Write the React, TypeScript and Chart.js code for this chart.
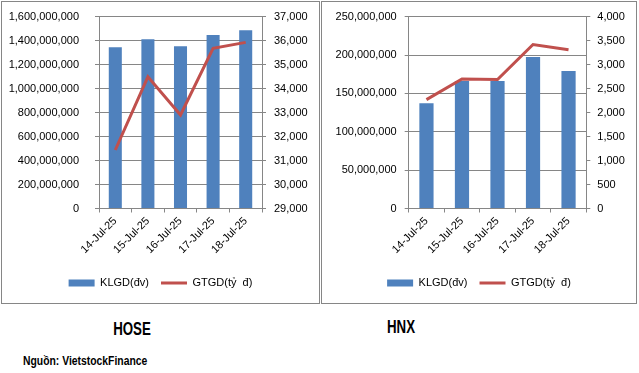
import React, { useEffect, useRef } from "react";
import { Chart, registerables } from "chart.js";

Chart.register(...registerables);

const dates = ["14-Jul-25", "15-Jul-25", "16-Jul-25", "17-Jul-25", "18-Jul-25"];
const seriesNames = ["KLGD(đv)", "GTGD(tỷ  đ)"];

const hoseVolume = [1346000000, 1412000000, 1354000000, 1448000000, 1487000000];
const hoseValue = [31440, 34490, 32900, 35680, 35930];
const hnxVolume = [137100000, 166200000, 166200000, 197500000, 179200000];
const hnxValue = [2270, 2700, 2690, 3420, 3310];

// [min, max, step]
const hoseVolumeAxis = [0, 1600000000, 200000000];
const hoseValueAxis = [29000, 37000, 1000];
const hnxVolumeAxis = [0, 250000000, 50000000];
const hnxValueAxis = [0, 4000, 500];

const BAR_COLOR = "#4F81BD";
const LINE_COLOR = "#C0504D";
const GRID_COLOR = "#868686";
const FONT = "'Liberation Sans', Arial, sans-serif";

type Geo = {
  leftW: number;
  rightW: number;
  leftPad: number;
  rightPad: number;
  xH: number;
  top: number;
  bottom: number;
};

function fmt(v: number | string) {
  return Number(v).toLocaleString("en-US");
}

function noPad(s: any) {
  s.paddingTop = 0;
  s.paddingBottom = 0;
  s.paddingLeft = 0;
  s.paddingRight = 0;
}

function makeConfig(volumes: number[], values: number[], la: number[], ra: number[], g: Geo): any {
  const tickFont = { family: FONT, size: 11 };
  return {
    type: "bar",
    data: {
      labels: dates,
      datasets: [
        {
          type: "bar",
          label: seriesNames[0],
          data: volumes,
          backgroundColor: BAR_COLOR,
          borderWidth: 0,
          yAxisID: "y",
          order: 1,
          barPercentage: 0.4,
          categoryPercentage: 1,
          pointStyle: "rect",
        },
        {
          type: "line",
          label: seriesNames[1],
          data: values,
          borderColor: LINE_COLOR,
          backgroundColor: LINE_COLOR,
          borderWidth: 3,
          pointRadius: 0,
          tension: 0,
          yAxisID: "y1",
          order: 0,
          pointStyle: "line",
        },
      ],
    },
    options: {
      animation: false,
      responsive: false,
      maintainAspectRatio: false,
      layout: { padding: { top: g.top, bottom: g.bottom, left: 0, right: 0 } },
      plugins: {
        tooltip: { enabled: false },
        legend: {
          position: "bottom",
          labels: {
            usePointStyle: true,
            pointStyleWidth: 26,
            boxWidth: 26,
            boxHeight: 7,
            padding: 12,
            color: "#000",
            font: tickFont,
            sort: (a: any, b: any) => a.datasetIndex - b.datasetIndex,
          },
        },
      },
      scales: {
        x: {
          offset: true,
          grid: { display: true, offset: true, drawOnChartArea: false, tickLength: 4, color: GRID_COLOR },
          border: { display: true, color: GRID_COLOR },
          ticks: { color: "#000", font: tickFont, minRotation: 45, maxRotation: 45, autoSkip: false, padding: 2 },
          afterFit: (s: any) => {
            s.height = g.xH;
            noPad(s);
          },
        },
        y: {
          position: "left",
          min: la[0],
          max: la[1],
          ticks: { stepSize: la[2], color: "#000", font: tickFont, padding: g.leftPad, callback: fmt },
          grid: { color: GRID_COLOR, tickLength: 4 },
          border: { display: true, color: GRID_COLOR },
          afterFit: (s: any) => {
            s.width = g.leftW;
            noPad(s);
          },
        },
        y1: {
          position: "right",
          min: ra[0],
          max: ra[1],
          ticks: { stepSize: ra[2], color: "#000", font: tickFont, padding: g.rightPad, callback: fmt },
          grid: { drawOnChartArea: false, color: GRID_COLOR, tickLength: 4 },
          border: { display: true, color: GRID_COLOR },
          afterFit: (s: any) => {
            s.width = g.rightW;
            noPad(s);
          },
        },
      },
    },
  };
}

function Panel(props: {
  left: number;
  width: number;
  volumes: number[];
  values: number[];
  la: number[];
  ra: number[];
  g: Geo;
}) {
  const ref = useRef<HTMLCanvasElement | null>(null);
  useEffect(() => {
    if (!ref.current) return;
    const chart = new Chart(ref.current, makeConfig(props.volumes, props.values, props.la, props.ra, props.g));
    return () => chart.destroy();
  }, []);
  return (
    <div
      style={{
        position: "absolute",
        left: props.left,
        top: 1,
        width: props.width,
        height: 303,
        border: "1px solid #868686",
        boxSizing: "border-box",
        background: "#fff",
      }}
    >
      <canvas ref={ref} width={props.width - 2} height={300} style={{ display: "block", width: props.width - 2, height: 300 }} />
    </div>
  );
}

const titleStyle: any = {
  position: "absolute",
  width: 100,
  textAlign: "center",
  fontFamily: "'Liberation Sans', Arial, sans-serif",
  fontWeight: "bold",
  fontSize: 19,
  lineHeight: "24px",
  color: "#000",
  transform: "scaleX(0.7)",
  transformOrigin: "50% 50%",
};

export default function App() {
  return (
    <div style={{ position: "absolute", left: 0, top: 0, width: 639, height: 373, background: "#fff", overflow: "hidden" }}>
      <Panel
        left={1}
        width={319}
        volumes={hoseVolume}
        values={hoseValue}
        la={hoseVolumeAxis}
        ra={hoseValueAxis}
        g={{ leftW: 97, rightW: 57, leftPad: 16, rightPad: 8, xH: 57, top: 14.7, bottom: 3.5 }}
      />
      <Panel
        left={321}
        width={316}
        volumes={hnxVolume}
        values={hnxValue}
        la={hnxVolumeAxis}
        ra={hnxValueAxis}
        g={{ leftW: 86.7, rightW: 49.7, leftPad: 8, rightPad: 7, xH: 57, top: 14.7, bottom: 3.5 }}
      />
      <div style={{ ...titleStyle, left: 82, top: 316.5 }}>HOSE</div>
      <div style={{ ...titleStyle, left: 351, top: 315 }}>HNX</div>
      <div
        style={{
          position: "absolute",
          left: 23,
          top: 352,
          fontFamily: FONT,
          fontWeight: "bold",
          fontSize: 12.5,
          lineHeight: "18px",
          color: "#000",
          whiteSpace: "nowrap",
          transform: "scaleX(0.83)",
          transformOrigin: "0 50%",
        }}
      >
        Nguồn: VietstockFinance
      </div>
    </div>
  );
}
